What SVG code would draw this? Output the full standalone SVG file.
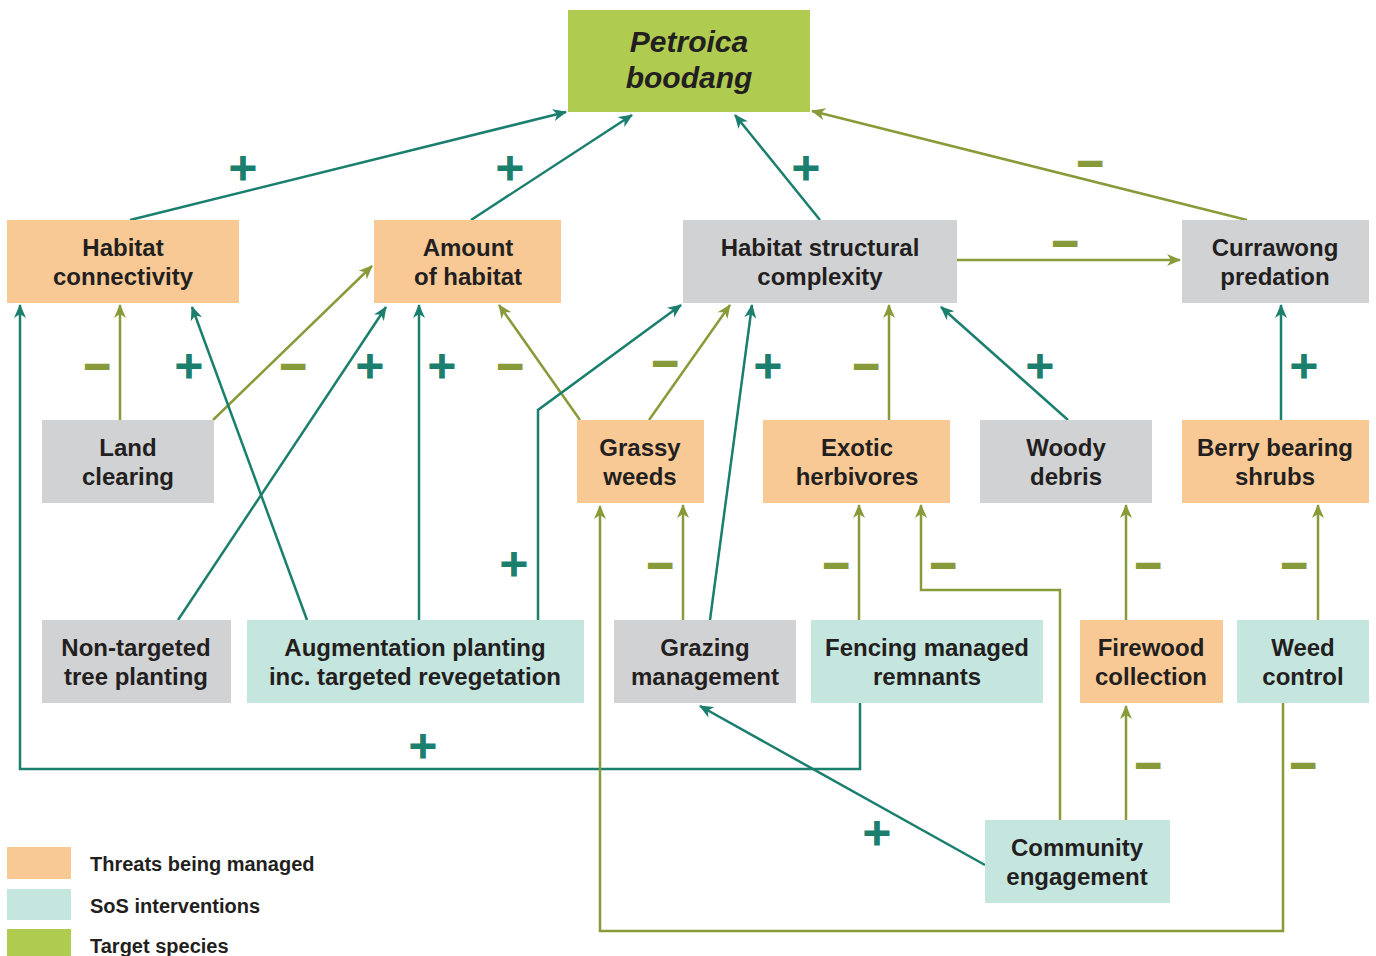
<svg xmlns="http://www.w3.org/2000/svg" width="1376" height="956" viewBox="0 0 1376 956">
<style>
.t{font-family:"Liberation Sans","DejaVu Sans",sans-serif;font-weight:bold;font-size:24px;fill:#231F20;text-anchor:middle}
.lg{font-family:"Liberation Sans","DejaVu Sans",sans-serif;font-weight:bold;font-size:20px;fill:#231F20}
.ti{font-family:"Liberation Sans","DejaVu Sans",sans-serif;font-weight:bold;font-style:italic;font-size:30px;fill:#231F20;text-anchor:middle}
.or{fill:#F8C994}.gr{fill:#D1D2D4}.tl{fill:#C5E5DF}.gn{fill:#AFCB50}
.ct{fill:none;stroke:#1B7F6E;stroke-width:2.5;marker-end:url(#mt)}
.co{fill:none;stroke:#889B3A;stroke-width:2.5;marker-end:url(#mo)}
.p{font-family:"DejaVu Sans",sans-serif;font-weight:bold;font-size:38px;fill:#1B7F6E;stroke:#1B7F6E;stroke-width:1.2;text-anchor:middle}
.m{font-family:"DejaVu Sans",sans-serif;font-weight:bold;font-size:36px;fill:#889B3A;stroke:#889B3A;stroke-width:2;text-anchor:middle}
</style>
<defs>
<marker id="mt" viewBox="0 0 14 12" refX="13" refY="6" markerWidth="14" markerHeight="12" markerUnits="userSpaceOnUse" orient="auto"><path d="M0,0 L14,6 L0,12 L4,6 z" fill="#1B7F6E"/></marker>
<marker id="mo" viewBox="0 0 14 12" refX="13" refY="6" markerWidth="14" markerHeight="12" markerUnits="userSpaceOnUse" orient="auto"><path d="M0,0 L14,6 L0,12 L4,6 z" fill="#889B3A"/></marker>
</defs>
<rect width="1376" height="956" fill="#fff"/>
<g id="connectors">
<path class="ct" d="M130,220 L566,112"/>
<path class="ct" d="M471,220 L632,115"/>
<path class="ct" d="M820,220 L735,115"/>
<path class="co" d="M1247,220 L812,111"/>
<path class="co" d="M957,260 L1180,260"/>
<path class="co" d="M120,420 L120,305"/>
<path class="co" d="M213,420 L372,266"/>
<path class="ct" d="M307,620 L192,307"/>
<path class="ct" d="M178,620 L386,307"/>
<path class="ct" d="M419,620 L419,305"/>
<path class="co" d="M580,420 L499,305"/>
<path class="ct" d="M538,620 L538,410 L681,305"/>
<path class="co" d="M649,420 L730,305"/>
<path class="ct" d="M710,620 L752,305"/>
<path class="co" d="M889,420 L889,305"/>
<path class="ct" d="M1068,420 L941,307"/>
<path class="ct" d="M1281,420 L1281,305"/>
<path class="co" d="M683,620 L683,505"/>
<path class="co" d="M859,620 L859,505"/>
<path class="co" d="M1060,820 L1060,590 L921,590 L921,505"/>
<path class="co" d="M1126,620 L1126,505"/>
<path class="co" d="M1318,620 L1318,505"/>
<path class="ct" d="M860,703 L860,769 L20,769 L20,305"/>
<path class="ct" d="M985,865 L700,706"/>
<path class="co" d="M1126,820 L1126,706"/>
<path class="co" d="M1283,703 L1283,931 L600,931 L600,506"/>
</g>
<g id="signs">
<text class="p" x="243" y="180">+</text>
<text class="p" x="510" y="180">+</text>
<text class="p" x="806" y="180">+</text>
<text class="m" x="1090" y="175">−</text>
<text class="m" x="1065" y="255">−</text>
<text class="m" x="97" y="378">−</text>
<text class="p" x="189" y="378">+</text>
<text class="m" x="293" y="378">−</text>
<text class="p" x="370" y="378">+</text>
<text class="p" x="442" y="378">+</text>
<text class="m" x="510" y="378">−</text>
<text class="m" x="665" y="375">−</text>
<text class="p" x="768" y="378">+</text>
<text class="m" x="866" y="378">−</text>
<text class="p" x="1040" y="378">+</text>
<text class="p" x="1304" y="378">+</text>
<text class="p" x="514" y="576">+</text>
<text class="m" x="660" y="577">−</text>
<text class="m" x="836" y="577">−</text>
<text class="m" x="943" y="577">−</text>
<text class="m" x="1148" y="577">−</text>
<text class="m" x="1294" y="577">−</text>
<text class="p" x="423" y="758">+</text>
<text class="p" x="877" y="845">+</text>
<text class="m" x="1148" y="777">−</text>
<text class="m" x="1303" y="777">−</text>
</g>
<g id="petroica"><rect class="gn" x="568" y="10" width="242" height="102"/><text class="ti" x="689" y="52">Petroica</text><text class="ti" x="689" y="88">boodang</text></g>
<g id="habitat-connectivity"><rect class="or" x="7" y="220" width="232" height="83"/><text class="t" x="123" y="256">Habitat</text><text class="t" x="123" y="285">connectivity</text></g>
<g id="amount-of-habitat"><rect class="or" x="374" y="220" width="187" height="83"/><text class="t" x="468" y="256">Amount</text><text class="t" x="468" y="285">of habitat</text></g>
<g id="habitat-structural-complexity"><rect class="gr" x="683" y="220" width="274" height="83"/><text class="t" x="820" y="256">Habitat structural</text><text class="t" x="820" y="285">complexity</text></g>
<g id="currawong-predation"><rect class="gr" x="1182" y="220" width="187" height="83"/><text class="t" x="1275" y="256">Currawong</text><text class="t" x="1275" y="285">predation</text></g>
<g id="land-clearing"><rect class="gr" x="42" y="420" width="172" height="83"/><text class="t" x="128" y="456">Land</text><text class="t" x="128" y="485">clearing</text></g>
<g id="grassy-weeds"><rect class="or" x="577" y="420" width="127" height="83"/><text class="t" x="640" y="456">Grassy</text><text class="t" x="640" y="485">weeds</text></g>
<g id="exotic-herbivores"><rect class="or" x="763" y="420" width="187" height="83"/><text class="t" x="857" y="456">Exotic</text><text class="t" x="857" y="485">herbivores</text></g>
<g id="woody-debris"><rect class="gr" x="980" y="420" width="172" height="83"/><text class="t" x="1066" y="456">Woody</text><text class="t" x="1066" y="485">debris</text></g>
<g id="berry-bearing-shrubs"><rect class="or" x="1182" y="420" width="187" height="83"/><text class="t" x="1275" y="456">Berry bearing</text><text class="t" x="1275" y="485">shrubs</text></g>
<g id="non-targeted-tree-planting"><rect class="gr" x="42" y="620" width="189" height="83"/><text class="t" x="136" y="656">Non-targeted</text><text class="t" x="136" y="685">tree planting</text></g>
<g id="augmentation-planting"><rect class="tl" x="247" y="620" width="337" height="83"/><text class="t" x="415" y="656">Augmentation planting</text><text class="t" x="415" y="685">inc. targeted revegetation</text></g>
<g id="grazing-management"><rect class="gr" x="614" y="620" width="182" height="83"/><text class="t" x="705" y="656">Grazing</text><text class="t" x="705" y="685">management</text></g>
<g id="fencing-managed-remnants"><rect class="tl" x="811" y="620" width="232" height="83"/><text class="t" x="927" y="656">Fencing managed</text><text class="t" x="927" y="685">remnants</text></g>
<g id="firewood-collection"><rect class="or" x="1080" y="620" width="143" height="83"/><text class="t" x="1151" y="656">Firewood</text><text class="t" x="1151" y="685">collection</text></g>
<g id="weed-control"><rect class="tl" x="1237" y="620" width="132" height="83"/><text class="t" x="1303" y="656">Weed</text><text class="t" x="1303" y="685">control</text></g>
<g id="community-engagement"><rect class="tl" x="985" y="820" width="185" height="83"/><text class="t" x="1077" y="856">Community</text><text class="t" x="1077" y="885">engagement</text></g>
<g id="legend">
<rect class="or" x="7" y="847" width="64" height="32"/><text class="lg" x="90" y="871">Threats being managed</text>
<rect class="tl" x="7" y="889" width="64" height="31"/><text class="lg" x="90" y="913">SoS interventions</text>
<rect class="gn" x="7" y="929" width="64" height="30"/><text class="lg" x="90" y="953">Target species</text>
</g>
</svg>
